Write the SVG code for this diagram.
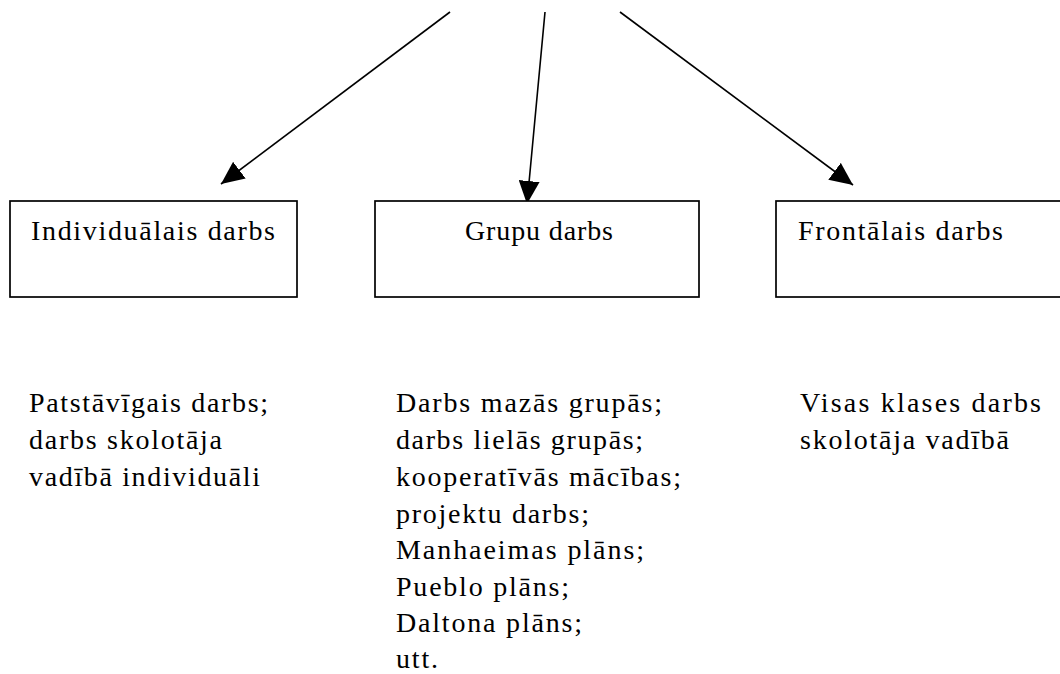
<svg xmlns="http://www.w3.org/2000/svg" width="1060" height="674" viewBox="0 0 1060 674">
<defs>
<style>
.box{fill:#fff;stroke:#000;stroke-width:1.7}
.edge{fill:none;stroke:#000;stroke-width:1.6}
text{font-family:"Liberation Serif","Times New Roman",serif;font-size:28px;fill:#000}
</style>
<marker id="ah" viewBox="0 0 23 21" refX="23" refY="10.5" markerWidth="23" markerHeight="21" markerUnits="userSpaceOnUse" orient="auto">
<path d="M0,0 L23,10.5 L0,21 Z" fill="#000"/>
</marker>
</defs>
<rect width="1060" height="674" fill="#fff"/>
<g id="connectors">
<path class="edge" d="M450,12 L221,184" marker-end="url(#ah)"/>
<path class="edge" d="M545,12 L527,204" marker-end="url(#ah)"/>
<path class="edge" d="M620,12 L853,185" marker-end="url(#ah)"/>
</g>
<g id="node-individualais">
<rect class="box" x="10" y="201" width="287" height="96"/>
<text x="31" y="240" textLength="244" lengthAdjust="spacing">Individuālais darbs</text>
</g>
<g id="node-grupu">
<rect class="box" x="375" y="201" width="324" height="96"/>
<text x="465" y="240" textLength="148" lengthAdjust="spacing">Grupu darbs</text>
</g>
<g id="node-frontalais">
<rect class="box" x="776" y="201" width="290" height="96"/>
<text x="798" y="240" textLength="205" lengthAdjust="spacing">Frontālais darbs</text>
</g>
<g id="desc-individualais">
<text x="29" y="412" textLength="239" lengthAdjust="spacing">Patstāvīgais darbs;</text>
<text x="29" y="449" textLength="193" lengthAdjust="spacing">darbs skolotāja</text>
<text x="29" y="486" textLength="231" lengthAdjust="spacing">vadībā individuāli</text>
</g>
<g id="desc-grupu">
<text x="396" y="412" textLength="266" lengthAdjust="spacing">Darbs mazās grupās;</text>
<text x="396" y="449" textLength="247" lengthAdjust="spacing">darbs lielās grupās;</text>
<text x="396" y="486" textLength="285" lengthAdjust="spacing">kooperatīvās mācības;</text>
<text x="396" y="523" textLength="193" lengthAdjust="spacing">projektu darbs;</text>
<text x="396" y="559" textLength="248" lengthAdjust="spacing">Manhaeimas plāns;</text>
<text x="396" y="596" textLength="173" lengthAdjust="spacing">Pueblo plāns;</text>
<text x="396" y="632" textLength="186" lengthAdjust="spacing">Daltona plāns;</text>
<text x="396" y="668" textLength="42" lengthAdjust="spacing">utt.</text>
</g>
<g id="desc-frontalais">
<text x="800" y="412" textLength="241" lengthAdjust="spacing">Visas klases darbs</text>
<text x="800" y="449" textLength="209" lengthAdjust="spacing">skolotāja vadībā</text>
</g>
</svg>
